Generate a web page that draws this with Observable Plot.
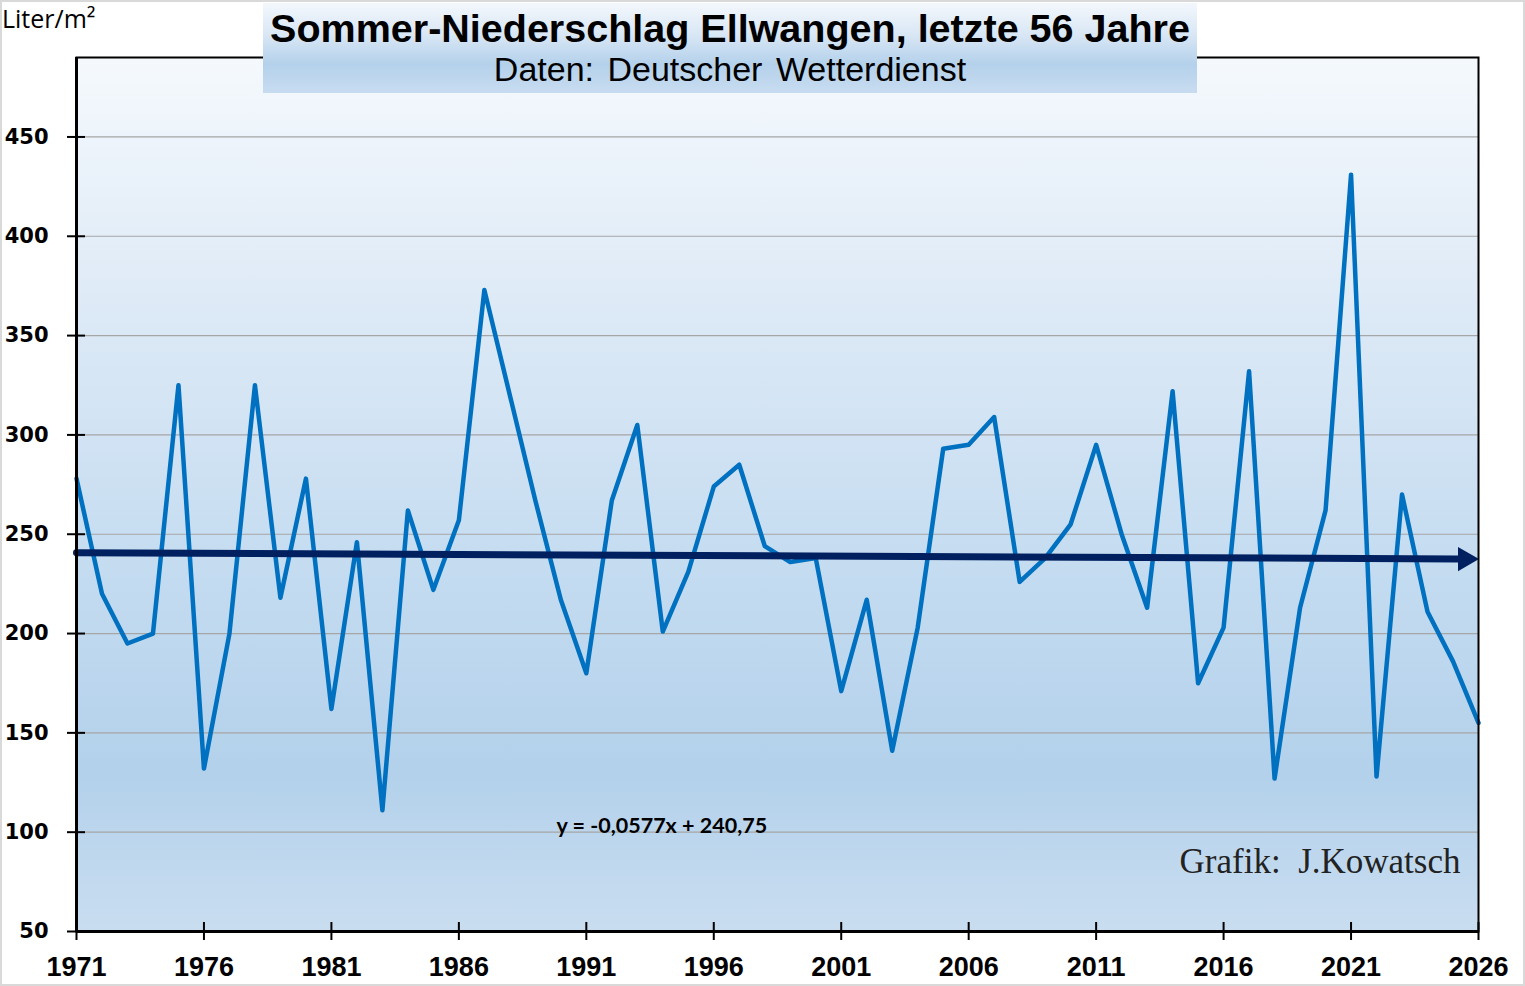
<!DOCTYPE html>
<html>
<head>
<meta charset="utf-8">
<script src="https://cdn.jsdelivr.net/npm/d3@7"></script>
<script src="https://cdn.jsdelivr.net/npm/@observablehq/plot@0.6"></script>
<style>
  html, body { margin: 0; padding: 0; background: #fff; }
  #wrap { position: relative; width: 1525px; height: 986px; overflow: hidden; background: #fff; }
  #bg { position: absolute; left: 76px; top: 57px; width: 1402px; height: 874px;
        background: linear-gradient(to bottom, #f5f9fd 0%, #dce9f6 30%, #c3dbf0 60%, #b3d1eb 82%, #c9ddf0 100%); }
  #chart { position: absolute; left: 0; top: 0; }
  #title { position: absolute; left: 263px; top: 3px; width: 934px; height: 90px; z-index: 3;
           background: linear-gradient(to bottom, #f3f7fc 0%, #d9e7f5 35%, #b4d1eb 68%, #c8dcf0 100%);
           text-align: center; font-family: "Liberation Sans", Arial, sans-serif; color: #000; }
  #title .t1 { font-weight: bold; font-size: 39.5px; line-height: 40px; padding-top: 5px; }
  #title .t2 { font-size: 34px; line-height: 36px; margin-top: 3px; word-spacing: 4px; }
  #unit { position: absolute; left: 2px; top: 1px; font-family: "Open Sans", sans-serif; font-size: 25px; color: #000; z-index: 3; }
  #border { position: absolute; left: 0; top: 0; width: 1525px; height: 986px; box-sizing: border-box;
            border: 2px solid #d9d9d9; z-index: 6; pointer-events: none; }
</style>
</head>
<body>
<div id="wrap">
  <div id="bg"></div>
  <div id="chart"></div>
  <div id="title">
    <div class="t1">Sommer-Niederschlag Ellwangen, letzte 56 Jahre</div>
    <div class="t2">Daten:  Deutscher  Wetterdienst</div>
  </div>
  <div id="unit">Liter/m²</div>
  <div id="border"></div>
</div>
<script>
// ---- data ----
const years = [1971,1972,1973,1974,1975,1976,1977,1978,1979,1980,
               1981,1982,1983,1984,1985,1986,1987,1988,1989,1990,
               1991,1992,1993,1994,1995,1996,1997,1998,1999,2000,
               2001,2002,2003,2004,2005,2006,2007,2008,2009,2010,
               2011,2012,2013,2014,2015,2016,2017,2018,2019,2020,
               2021,2022,2023,2024,2025,2026];
const rain = [278,220,195,200,325,132,200,325,218,278,
              162,246,111,262,222,257,373,320,267,217,
              180,267,305,201,231,274,285,244,236,238,
              171,217,141,203,293,295,309,226,238,255,
              295,250,213,322,175,203,332,127,213,262,
              431,128,270,211,186,155];
const trendSlope = -0.0577;
const trendIntercept = 240.75;
const trendLabel = "y = -0,0577x + 240,75";
const creditLabel = "Grafik:  J.Kowatsch";
const xTicks = [1971,1976,1981,1986,1991,1996,2001,2006,2011,2016,2021,2026];
const yTicks = [50,100,150,200,250,300,350,400,450];
const gridValues = [100,150,200,250,300,350,400,450];

const rows = years.map((year, i) => ({year, value: rain[i]}));
const trendAt = yr => trendIntercept + trendSlope * (yr - years[0] + 1);
const trendRows = [years[0], years[years.length - 1] - 0.8].map(yr => ({year: yr, value: trendAt(yr)}));
const trendEnd = [{year: years[years.length - 1], value: trendAt(years[years.length - 1])}];

const chart = Plot.plot({
  width: 1525,
  height: 986,
  marginLeft: 76,
  marginRight: 47,
  marginTop: 57,
  marginBottom: 55,
  style: {background: "transparent", overflow: "visible"},
  x: {domain: [1971, 2026], axis: null, label: null},
  y: {domain: [50, 490], axis: null, label: null},
  marks: [
    Plot.ruleY(gridValues, {stroke: "#a6a6a6", strokeWidth: 1.2}),
    Plot.line(rows, {x: "year", y: "value", stroke: "#0070c0", strokeWidth: 4.5,
                     strokeLinejoin: "round", strokeLinecap: "round"}),
    Plot.line(trendRows, {x: "year", y: "value", stroke: "#002060", strokeWidth: 7}),
    Plot.dot(trendEnd, {x: "year", y: "value", symbol: "triangle", r: 9, fill: "#002060",
                        stroke: null, rotate: 90, dx: -13.5}),
    Plot.frame({stroke: "#000", strokeWidth: 2}),
    Plot.ruleX([1971], {stroke: "#000", strokeWidth: 3}),
    Plot.ruleY([50], {stroke: "#000", strokeWidth: 3}),
    // tick marks crossing the axes
    Plot.axisY(yTicks, {tickSize: 18, dx: 9, tickFormat: () => "", label: null, stroke: "#000", strokeWidth: 2}),
    Plot.axisX(xTicks, {tickSize: 18, dy: -9, tickFormat: () => "", label: null, stroke: "#000", strokeWidth: 2}),
    // labels
    Plot.axisY(yTicks, {tickSize: 0, tickPadding: 28, fontSize: 21, fontWeight: "bold", label: null,
                        fontFamily: "DejaVu Sans", fill: "#000"}),
    Plot.axisX(xTicks, {tickSize: 0, tickPadding: 25, fontSize: 27, fontWeight: "bold", label: null,
                        fontFamily: "Liberation Sans", fill: "#000", tickFormat: d => String(d)}),
    Plot.text([trendLabel], {frameAnchor: "bottom-left", text: d => d, dx: 480, dy: -99,
                             textAnchor: "start", fontSize: 21.5, fontWeight: "bold",
                             fontFamily: "Lato", fill: "#000"}),
    Plot.text([creditLabel], {frameAnchor: "bottom-right", text: d => d, dx: -18, dy: -59,
                              textAnchor: "end", fontSize: 35, fontFamily: "Liberation Serif",
                              fill: "#222", style: "white-space: pre"})
  ]
});
document.getElementById("chart").appendChild(chart);
</script>
</body>
</html>
